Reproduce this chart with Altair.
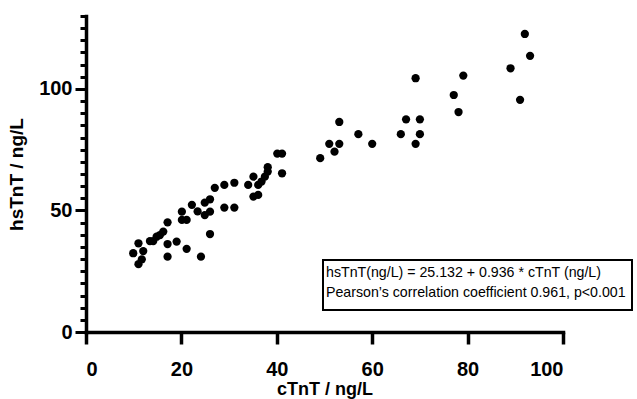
import altair as alt
import pandas as pd

ctnt = [9.9, 11.0, 11.0, 11.7, 12.0, 13.4, 14.1, 14.8, 15.5, 16.2, 17.1, 17.1, 17.1, 19.0,
        20.1, 20.1, 21.1, 21.1, 22.2, 23.4, 24.1, 24.9, 26.0, 24.9, 26.0, 26.0, 27.0,
        29.0, 31.1, 29.0, 31.1, 34.0, 35.1, 36.1, 35.1, 36.1, 36.8, 37.5, 38.1, 38.1,
        40.1, 41.1, 41.1, 49.1, 51.0, 53.1, 52.1, 53.1, 57.1, 60.0, 66.0, 67.1, 70.0,
        70.0, 69.1, 69.1, 77.1, 78.1, 79.1, 89.0, 91.0, 92.0, 93.1]
hstnt = [32.4, 36.5, 27.9, 29.9, 33.3, 37.4, 37.4, 39.2, 39.9, 41.3, 45.1, 36.2, 31.0, 37.2,
         49.5, 46.1, 46.1, 34.2, 52.3, 49.6, 31.0, 53.2, 54.6, 48.1, 49.5, 40.3, 59.3,
         60.5, 61.4, 51.2, 51.2, 60.5, 63.9, 60.5, 55.7, 56.4, 61.9, 63.9, 67.8, 66.0,
         73.4, 73.4, 65.3, 71.5, 77.4, 77.4, 74.2, 86.4, 81.4, 77.4, 81.4, 87.5, 87.5,
         81.4, 77.4, 104.4, 97.5, 90.5, 105.5, 108.5, 95.5, 122.6, 113.6]

x_ticks = [0, 20, 40, 60, 80, 100]
y_ticks = list(range(0, 131, 5))
annotation = ["hsTnT(ng/L) = 25.132 + 0.936 * cTnT (ng/L)",
              "Pearson\u2019s correlation coefficient 0.961, p<0.001"]

df = pd.DataFrame({"c": ctnt, "h": hstnt})
FONT = "Liberation Sans"

points = alt.Chart(df).mark_circle(size=68, color="black", opacity=1).encode(
    x=alt.X("c:Q", title="cTnT / ng/L",
            scale=alt.Scale(domain=[0, 100], nice=False, zero=True),
            axis=alt.Axis(values=x_ticks, tickSize=12, tickWidth=3.5, tickColor="black",
                          domainWidth=3.5, domainColor="black", domainCap="square",
                          labelFontSize=20, labelFontWeight="bold", labelFont=FONT,
                          labelColor="black", labelPadding=15, grid=False,
                          titleFontSize=18, titleFontWeight="bold", titleFont=FONT,
                          titleColor="black", titlePadding=1)),
    y=alt.Y("h:Q", title="hsTnT / ng/L",
            scale=alt.Scale(domain=[0, 130], nice=False, zero=True),
            axis=alt.Axis(values=y_ticks,
                          tickSize=alt.condition("datum.value % 50 === 0", alt.value(11), alt.value(6)),
                          tickWidth=3, tickColor="black",
                          labelExpr="datum.value % 50 === 0 ? datum.label : ''",
                          domainWidth=3.5, domainColor="black", domainCap="square",
                          labelFontSize=20, labelFontWeight="bold", labelFont=FONT,
                          labelColor="black", labelPadding=3, grid=False,
                          titleFontSize=19, titleFontWeight="bold", titleFont=FONT,
                          titleColor="black", titlePadding=12)),
)

box = alt.Chart(pd.DataFrame({"a": [0]})).mark_rect(
    fill="white", stroke="black", strokeWidth=2
).encode(x=alt.value(237), x2=alt.value(546), y=alt.value(244), y2=alt.value(294))

ann_layers = []
for i, line in enumerate(annotation):
    ann_layers.append(
        alt.Chart(pd.DataFrame({"t": [line]})).mark_text(
            align="left", baseline="middle", fontSize=14.2, font=FONT, color="black"
        ).encode(x=alt.value(240), y=alt.value(257 + 20 * i), text="t:N")
    )

chart = alt.layer(points, box, *ann_layers).properties(
    width=477, height=316,
    autosize="none",
    padding={"left": 86, "top": 16, "right": 74, "bottom": 67},
).configure_view(stroke=None)

chart.save("out.html", embed_options={"renderer": "svg", "actions": False})
